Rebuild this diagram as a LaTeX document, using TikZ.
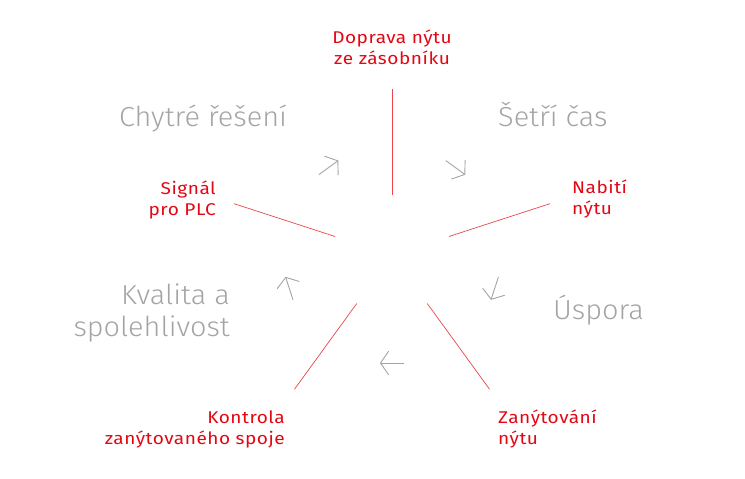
\documentclass[tikz,border=0pt]{standalone}
\usepackage{fontspec}
\setmainfont{Fira Sans}[FakeStretch=1.12,LetterSpace=3]
\newfontfamily\lightfont{Fira Sans Light}[FakeStretch=1.05]
\usetikzlibrary{arrows.meta}
\definecolor{stepred}{HTML}{E30613}
\definecolor{benefitgray}{HTML}{A4A4A4}

\begin{document}
\begin{tikzpicture}[x=1pt,y=1pt,
  stage/.style={text=stepred, inner sep=0pt, font=\fontsize{17}{21}\selectfont},
  benefit/.style={text=benefitgray, inner sep=0pt, font=\lightfont\fontsize{27.5}{32}\selectfont},
  spoke/.style={draw=stepred!75, line width=0.7pt},
  turn/.style={draw=benefitgray, line width=0.9pt,
    -{Straight Barb[length=8pt,width=23pt,round]}}]
  \useasboundingbox (0,0) rectangle (745,479);
  \coordinate (c) at (392,224);
  % spokes between the steps
  \foreach \a in {90,18,306,234,162} {
    \coordinate (in\a) at ([shift={(\a:60)}]c);
    \coordinate (out\a) at ([shift={(\a:166)}]c);
    \draw[spoke] (in\a) -- (out\a);
  }
  % arrows running clockwise
  \foreach \a in {54,342,270,198,126} {
    \coordinate (mid\a) at ([shift={(\a:108)}]c);
    \coordinate (from\a) at ([shift={(\a+90:12)}]mid\a);
    \coordinate (to\a) at ([shift={(\a-90:12)}]mid\a);
    \draw[turn] (from\a) -- (to\a);
  }
  % steps
  \node[stage, align=center, anchor=base] (doprava) at (392,414) {Doprava nýtu\\ze zásobníku};
  \node[stage, align=left, anchor=base west] (nabiti) at (572,264) {Nabití\\nýtu};
  \node[stage, align=left, anchor=base west] (zanyt) at (498,34) {Zanýtování\\nýtu};
  \node[stage, align=right, anchor=base east] (kontrola) at (285,34) {Kontrola\\zanýtovaného spoje};
  \node[stage, align=right, anchor=base east] (signal) at (216,263) {Signál\\pro PLC};
  % benefits
  \node[benefit, anchor=base] (chytre) at (203,352) {Chytré řešení};
  \node[benefit, anchor=base west] (setri) at (498,352) {Šetří čas};
  \node[benefit, anchor=base west] (uspora) at (553,159) {Úspora};
  \node[benefit, align=right, anchor=base east] (kvalita) at (230,142) {Kvalita a\\spolehlivost};
\end{tikzpicture}
\end{document}
